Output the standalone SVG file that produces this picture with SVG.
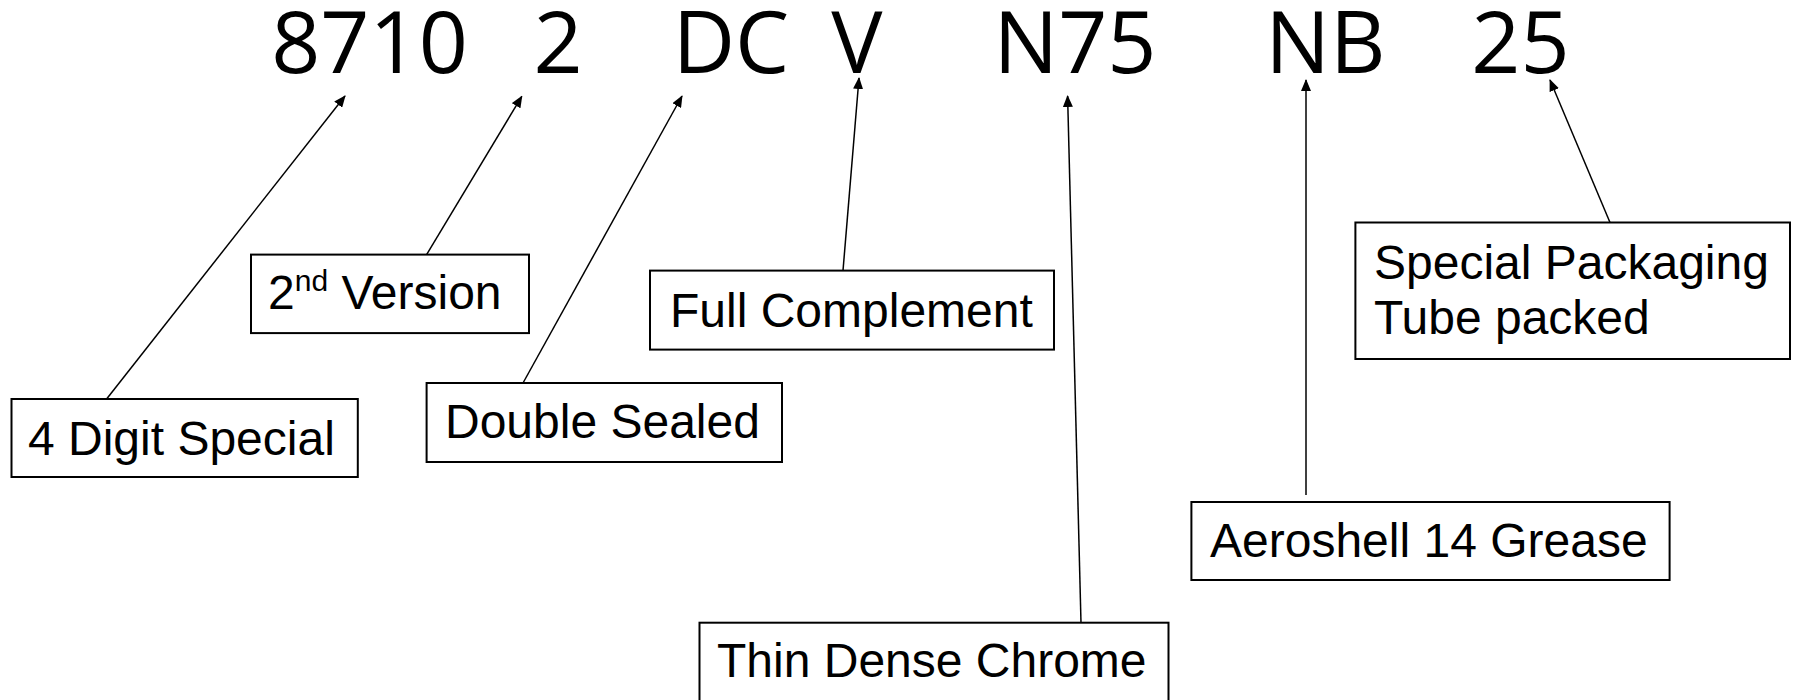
<svg xmlns="http://www.w3.org/2000/svg" width="1798" height="700" viewBox="0 0 1798 700">
<defs>
<marker id="ah" markerWidth="12" markerHeight="10" refX="11" refY="5" orient="auto" markerUnits="userSpaceOnUse">
<path d="M0,0 L12,5 L0,10 Z" fill="#000"/>
</marker>
<style>
.box{fill:#fff;stroke:#000;stroke-width:2}
.lbl{font-family:"Liberation Sans",Arial,sans-serif;font-size:48px;fill:#000}
.code{font-family:"Open Sans","Noto Sans",sans-serif;font-size:86px;fill:#000}
.con{stroke:#000;stroke-width:1.5;fill:none;marker-end:url(#ah)}
</style>
</defs>
<rect width="1798" height="700" fill="#fff"/>
<g id="code">
<text class="code" y="73" text-anchor="middle"><tspan x="369.5">8710</tspan><tspan x="558">2</tspan><tspan x="731">DC</tspan><tspan x="857">V</tspan><tspan x="1075">N75</tspan><tspan x="1325.5">NB</tspan><tspan x="1520.5">25</tspan></text>
</g>
<g id="connectors">
<line class="con" x1="106.6" y1="399" x2="345" y2="96"/>
<line class="con" x1="426.6" y1="254.6" x2="521.8" y2="96.3"/>
<line class="con" x1="523" y1="383" x2="682" y2="96"/>
<line class="con" x1="843" y1="270.6" x2="859" y2="78"/>
<line class="con" x1="1081" y1="622.7" x2="1067.6" y2="96"/>
<line class="con" x1="1306" y1="495" x2="1306" y2="80"/>
<line class="con" x1="1610" y1="222.5" x2="1550" y2="80"/>
</g>
<g id="n-4digit">
<rect class="box" x="11.5" y="399" width="346.3" height="78"/>
<text class="lbl" x="28" y="455">4 Digit Special</text>
</g>
<g id="n-version">
<rect class="box" x="251" y="254.6" width="278" height="78.5"/>
<text class="lbl" x="268" y="309">2<tspan font-size="30" dy="-18">nd</tspan><tspan dy="18"> Version</tspan></text>
</g>
<g id="n-double">
<rect class="box" x="426.6" y="383" width="355.4" height="79"/>
<text class="lbl" x="445" y="438">Double Sealed</text>
</g>
<g id="n-full">
<rect class="box" x="650" y="270.6" width="404" height="79"/>
<text class="lbl" x="670" y="327">Full Complement</text>
</g>
<g id="n-thin">
<rect class="box" x="699.5" y="622.7" width="469" height="80"/>
<text class="lbl" x="717" y="677">Thin Dense Chrome</text>
</g>
<g id="n-aero">
<rect class="box" x="1191.4" y="502" width="478.2" height="78"/>
<text class="lbl" x="1210" y="557">Aeroshell 14 Grease</text>
</g>
<g id="n-pack">
<rect class="box" x="1355.4" y="222.5" width="434.6" height="136.5"/>
<text class="lbl" x="1374" y="279">Special Packaging</text>
<text class="lbl" x="1374" y="334">Tube packed</text>
</g>
</svg>
